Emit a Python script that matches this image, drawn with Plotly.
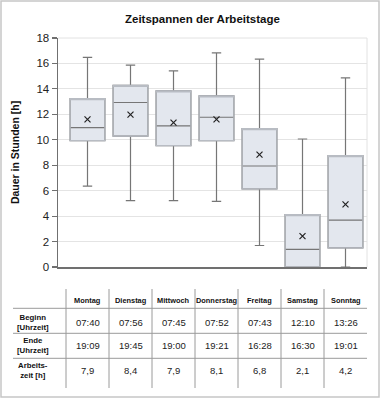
import plotly.graph_objects as go

days = ["Montag", "Dienstag", "Mittwoch", "Donnerstag", "Freitag", "Samstag", "Sonntag"]
lower = [6.36, 5.21, 5.21, 5.16, 1.69, 0.0, 0.0]
q1 = [9.93, 10.28, 9.54, 9.93, 6.13, 0.0, 1.51]
median = [10.96, 12.93, 11.09, 11.77, 7.94, 1.38, 3.69]
q3 = [13.24, 14.27, 13.84, 13.45, 10.88, 4.11, 8.76]
upper = [16.47, 15.87, 15.42, 16.83, 16.34, 10.06, 14.87]
mean = [11.6, 11.98, 11.35, 11.6, 8.83, 2.43, 4.92]

row_labels = ["Beginn<br>[Uhrzeit]", "Ende<br>[Uhrzeit]", "Arbeits-<br>zeit [h]"]
beginn = ["07:40", "07:56", "07:45", "07:52", "07:43", "12:10", "13:26"]
ende = ["19:09", "19:45", "19:00", "19:21", "16:28", "16:30", "19:01"]
arbeitszeit = ["7,9", "8,4", "7,9", "8,1", "6,8", "2,1", "4,2"]
rows = [beginn, ende, arbeitszeit]

W, H = 380, 400
ML, MR, MT, MB = 58, 13, 38, 133
PW, PH = W - ML - MR, H - MT - MB

def px(x):
    return (x - ML) / PW

def py(y):
    return (H - MB - y) / PH

BOLD = "Liberation Sans, Arial, sans-serif"
REG = "Liberation Sans, Arial, sans-serif"

fig = go.Figure()
fig.add_trace(go.Box(
    x=days, q1=q1, median=median, q3=q3, lowerfence=lower, upperfence=upper,
    fillcolor="#e3e7ee", line=dict(color="#767676", width=1.2),
    width=0.81, whiskerwidth=0.27, hoverinfo="skip", showlegend=False,
))
fig.add_trace(go.Box(
    x=days, q1=q1, median=q3, q3=q3, lowerfence=q1, upperfence=q3,
    fillcolor="rgba(0,0,0,0)", line=dict(color="#b8bcc3", width=1.2),
    width=0.81, whiskerwidth=0, hoverinfo="skip", showlegend=False,
))
fig.add_trace(go.Scatter(
    x=days, y=mean, mode="markers",
    marker=dict(symbol="x-thin", size=6, line=dict(color="#222222", width=1.2)),
    hoverinfo="skip", showlegend=False,
))

shapes = []
shapes.append(dict(type="rect", xref="paper", yref="paper",
                   x0=px(1), x1=px(379), y0=py(397), y1=py(1),
                   line=dict(color="#c6c6c6", width=1.5)))
shapes.append(dict(type="line", xref="paper", yref="paper", x0=1, x1=1, y0=0, y1=1,
                   line=dict(color="#e2e2e2", width=1)))
shapes.append(dict(type="line", xref="paper", yref="paper", x0=0, x1=1, y0=1, y1=1,
                   line=dict(color="#e2e2e2", width=1)))
for k in range(len(days)):
    shapes.append(dict(type="line", xref="x", yref="paper", x0=k - 0.5, x1=k - 0.5,
                       y0=py(388), y1=py(289), line=dict(color="#9a9a9a", width=1)))
for yy in [308.3, 333.3, 358.3]:
    shapes.append(dict(type="line", xref="paper", yref="paper", x0=px(13), x1=px(367),
                       y0=py(yy), y1=py(yy), line=dict(color="#9a9a9a", width=1)))

ann = []
ann.append(dict(text="<b>Zeitspannen der Arbeitstage</b>", xref="paper", yref="paper",
                x=px(202), y=py(19), showarrow=False, xanchor="center", yanchor="middle",
                font=dict(family=BOLD, size=11.5, color="#111111")))
for k, d in enumerate(days):
    ann.append(dict(text="<b>" + d + "</b>", xref="x", yref="paper", x=k, y=py(300),
                    showarrow=False, xanchor="center", yanchor="middle",
                    font=dict(family=BOLD, size=7.4, color="#111111")))
row_y = [322.7, 345.7, 370]
for r, (lab, vals) in enumerate(zip(row_labels, rows)):
    ann.append(dict(text="<b>" + lab + "</b>", xref="paper", yref="paper", x=px(33), y=py(row_y[r]),
                    showarrow=False, xanchor="center", yanchor="middle",
                    font=dict(family=BOLD, size=7.8, color="#111111")))
    for k, v in enumerate(vals):
        ann.append(dict(text=v, xref="x", yref="paper", x=k, y=py(row_y[r]),
                        showarrow=False, xanchor="center", yanchor="middle",
                        font=dict(family=REG, size=9.5, color="#222222")))

fig.update_layout(
    width=W, height=H, margin=dict(l=ML, r=MR, t=MT, b=MB),
    paper_bgcolor="white", plot_bgcolor="white",
    shapes=shapes, annotations=ann,
    xaxis=dict(type="category", range=[-0.686, 6.5], showticklabels=False, ticks="",
               showgrid=False, showline=True, linecolor="#707070", linewidth=1.5, zeroline=False,
               fixedrange=True),
    yaxis=dict(range=[0, 18], dtick=2, showgrid=True, gridcolor="#e4e4e4", gridwidth=1,
               showline=True, linecolor="#707070", linewidth=1.5, ticks="outside", ticklen=5,
               tickcolor="#707070", tickwidth=1.2, zeroline=False, fixedrange=True,
               tickfont=dict(family=REG, size=11.5, color="#222222"),
               title=dict(text="<b>Dauer in Stunden [h]</b>", standoff=14,
                          font=dict(family=BOLD, size=10.5, color="#111111"))),
)
fig.write_html("out.html", config={"displayModeBar": False, "staticPlot": True},
               post_script="document.body.style.margin='0';document.body.style.overflow='hidden';")
